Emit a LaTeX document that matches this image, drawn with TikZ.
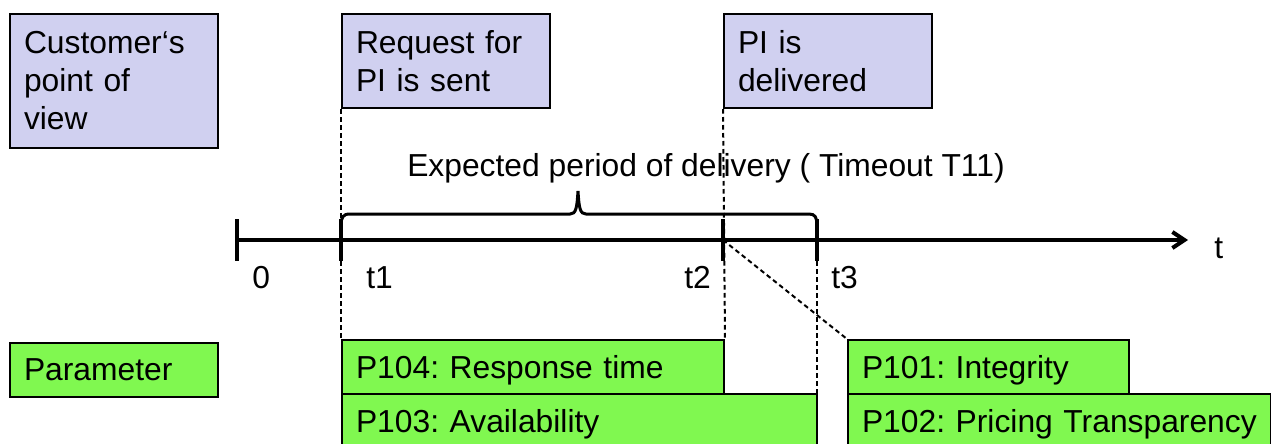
\documentclass[tikz,border=0pt]{standalone}
\usepackage{fontspec}
\setmainfont{Liberation Sans}
\usetikzlibrary{arrows.meta,calc}
\definecolor{lav}{RGB}{208,208,240}
\definecolor{grn}{RGB}{128,248,80}
\frenchspacing
\hyphenpenalty=10000
\begin{document}
\begin{tikzpicture}[x=0.75pt,y=-0.75pt,
  every node/.style={font=\fontsize{23.85}{28.5}\selectfont},
  lbox/.style={draw=black,line width=1.5pt,fill=lav,anchor=north west,align=left,
    inner xsep=10.5pt,inner ysep=0pt,minimum width=156pt,text width=135pt},
  gbox/.style={draw=black,line width=1.5pt,fill=grn,anchor=north west,align=left,
    inner xsep=10.5pt,inner ysep=0pt,text depth=0pt,minimum height=40.5pt},
  lbl/.style={anchor=base west,inner sep=0pt},
  dsh/.style={dash pattern=on 3.5pt off 2.5pt,line width=1.5pt},
  tickline/.style={line width=3pt},
  ]
\useasboundingbox (0,0) rectangle (1271,443);

% top boxes
\node[lbox,minimum height=100.5pt] (cust) at (9,13) {Customer‘s\\point of\\view};
\node[lbox,minimum height=70.5pt] (req) at (341,13) {Request for\\PI is sent};
\node[lbox,minimum height=70.5pt] (pi) at (723,13) {PI is\\delivered};

% parameter boxes
\node[gbox,minimum width=156pt,text width=135pt] (param) at (9,342) {Parameter};
\node[gbox,minimum width=286.5pt,text width=265.5pt] (p104) at (341,339) {P104: Response time};
\node[gbox,minimum width=356.25pt,text width=335.25pt] (p103) at (341,393) {P103: Availability};
\node[gbox,minimum width=210.75pt,text width=189.75pt] (p101) at (847,339) {P101: Integrity};
\node[gbox,minimum width=317.25pt,text width=296.25pt] (p102) at (847,393) {P102: Pricing Transparency};

% axis coordinates
\coordinate (a0) at (237,240);
\coordinate (a1) at (341,240);
\coordinate (a2) at (723,240);
\coordinate (a3) at (817,240);
\coordinate (aend) at (1188,240);
\coordinate (a3low) at (817,447);

% dashed guide lines
\draw[dsh] (req.south west) -- (p104.north west);
\draw[dsh] (pi.south west) -- (p104.north east);
\draw[dsh] ($(a3)+(0,21)$) -- (a3low);
\draw[dsh] (a2) -- (p101.north west);

% axis
\draw[line width=3pt,-{Straight Barb[length=9pt,width=12pt]}] (a0) -- (aend);
\foreach \p in {a0,a1,a2,a3}
  \draw[tickline] ($(\p)+(0,-21)$) -- ($(\p)+(0,21)$);

% brace
\draw[line width=2.25pt] ($(a1)+(0,-14)$) .. controls ($(a1)+(0,-23)$) and ($(a1)+(2,-26)$) .. ($(a1)+(9,-26)$)
  -- (570,214) .. controls (576,214) and (577,208) .. (578,191)
  .. controls (579,208) and (580,214) .. (586,214)
  -- ($(a3)+(-8,-26)$) .. controls ($(a3)+(-2,-26)$) and ($(a3)+(0,-23)$) .. ($(a3)+(0,-14)$);

% labels
\node[lbl] (lexp) at (407,176) {Expected period of delivery ( Timeout T11)};
\node[lbl] (l0) at (252,288.5) {0};
\node[lbl] (l1) at (366,288.5) {t1};
\node[lbl] (l2) at (684,288.5) {t2};
\node[lbl] (l3) at (831,288.5) {t3};
\node[lbl] (lt) at (1214,258) {t};
\end{tikzpicture}
\end{document}
